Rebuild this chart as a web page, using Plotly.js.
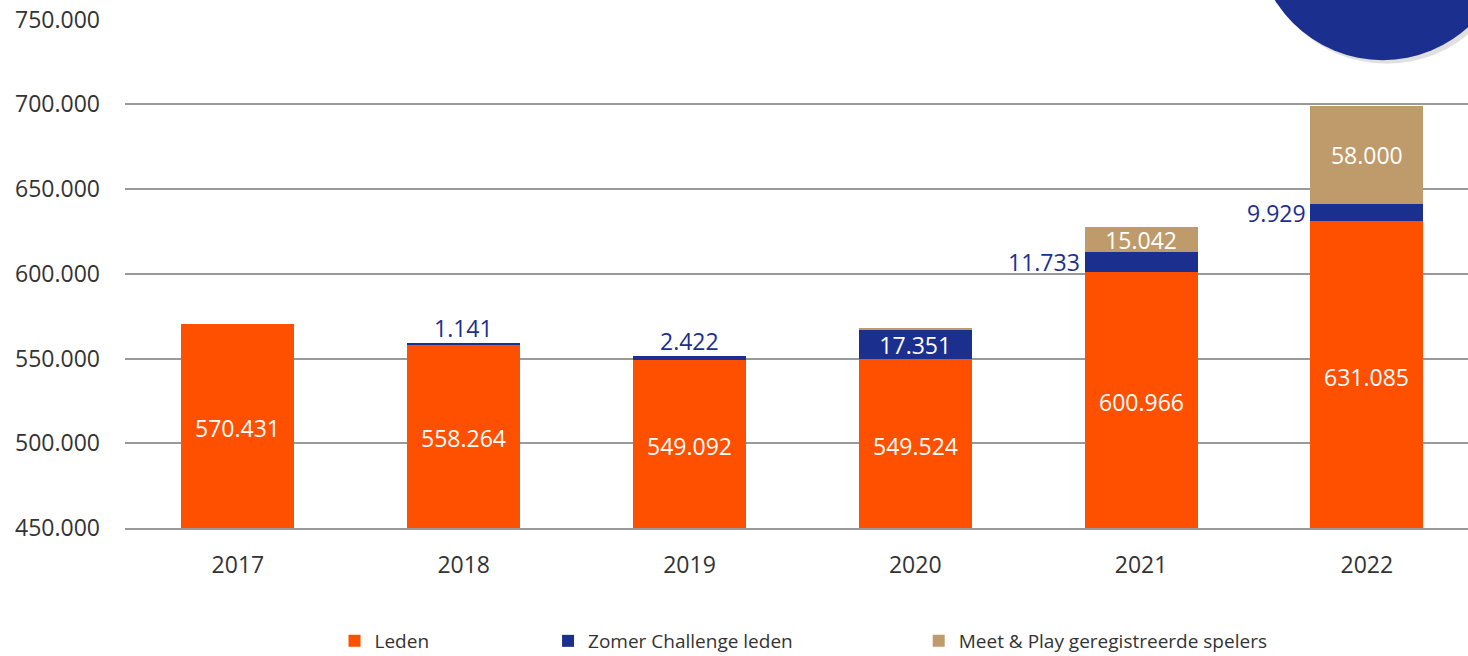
<!DOCTYPE html>
<html>
<head>
<meta charset="utf-8">
<script src="https://cdn.plot.ly/plotly-3.0.1.min.js"></script>
<style>html,body{margin:0;padding:0;background:#fff;}#chart{width:1468px;height:656px;}</style>
</head>
<body>
<div id="chart"></div>
<script>
var years = ['2017', '2018', '2019', '2020', '2021', '2022'];
var leden = [570431, 558264, 549092, 549524, 600966, 631085];
var zomer = [0, 1141, 2422, 17351, 11733, 9929];
var meetPlay = [0, 0, 0, 1200, 15042, 58000];
var seriesNames = ['Leden', 'Zomer Challenge leden', 'Meet & Play geregistreerde spelers'];
var yTicks = [450000, 500000, 550000, 600000, 650000, 700000, 750000];

var ORANGE = '#FF5000', NAVY = '#1B2F8F', TAN = '#BF9B6B';
var FONT = 'Open Sans, DejaVu Sans, sans-serif';
var Y_MIN = 450000, Y_MAX = 750400;
var LABEL_SIZE = 23;

function fmt(v) { return v.toString().replace(/\B(?=(\d{3})+(?!\d))/g, '.'); }

var traces = [
  {
    type: 'bar', name: seriesNames[0], x: years, y: leden,
    marker: {color: ORANGE}, hoverinfo: 'skip', legend: 'legend'
  },
  {
    type: 'bar', name: seriesNames[1], x: years, y: zomer,
    marker: {color: NAVY},
    text: zomer.map(function (v) { return v >= 15000 ? fmt(v) : ''; }),
    textposition: 'inside', insidetextanchor: 'middle', constraintext: 'none',
    textfont: {color: '#ffffff', size: LABEL_SIZE, family: FONT},
    hoverinfo: 'skip', legend: 'legend2'
  },
  {
    type: 'bar', name: seriesNames[2], x: years, y: meetPlay,
    marker: {color: TAN},
    text: meetPlay.map(function (v) { return v >= 5000 ? fmt(v) : ''; }),
    textposition: 'inside', insidetextanchor: 'middle', constraintext: 'none',
    textfont: {color: '#ffffff', size: LABEL_SIZE, family: FONT},
    hoverinfo: 'skip', legend: 'legend3'
  }
];

var annotations = [];
for (var i = 0; i < years.length; i++) {
  // Leden label centred in the visible part of the bar
  annotations.push({
    x: i, y: (Y_MIN + leden[i]) / 2, xref: 'x', yref: 'y',
    text: fmt(leden[i]), showarrow: false, xanchor: 'center', yanchor: 'middle',
    yshift: -2, font: {color: '#ffffff', size: LABEL_SIZE, family: FONT}
  });
  // Small Zomer Challenge segments get outside labels
  var z = zomer[i];
  if (z <= 0 || z >= 15000) continue;
  if (meetPlay[i] > 0) {
    annotations.push({
      x: i, y: leden[i] + z / 2, xref: 'x', yref: 'y',
      text: fmt(z), showarrow: false, xanchor: 'right', yanchor: 'middle',
      xshift: -59, font: {color: NAVY, size: LABEL_SIZE, family: FONT}
    });
  } else {
    annotations.push({
      x: i, y: leden[i] + z, xref: 'x', yref: 'y',
      text: fmt(z), showarrow: false, xanchor: 'center', yanchor: 'bottom',
      yshift: -3, font: {color: NAVY, size: LABEL_SIZE, family: FONT}
    });
  }
}

var legendFont = {family: FONT, size: 19, color: '#333333'};
function legendAt(x) {
  return {orientation: 'h', x: x, xanchor: 'left', y: -0.222, yanchor: 'middle',
          font: legendFont, bgcolor: 'rgba(0,0,0,0)', itemclick: false, itemdoubleclick: false};
}

var layout = {
  width: 1468, height: 656,
  margin: {l: 125, r: 0, t: 19, b: 128, autoexpand: false},
  paper_bgcolor: '#ffffff', plot_bgcolor: '#ffffff',
  barmode: 'stack', bargap: 0.5,
  separators: ',.',
  font: {family: FONT, color: '#333333'},
  xaxis: {
    type: 'category', range: [-0.5, 5.448], autorange: false, automargin: false,
    showgrid: false, zeroline: false, showline: true,
    linecolor: '#999999', linewidth: 2, ticks: '',
    tickfont: {size: 23, color: '#333333', family: FONT},
    ticklabelstandoff: 15, fixedrange: true
  },
  yaxis: {
    range: [Y_MIN, Y_MAX], autorange: false, automargin: false, tickvals: yTicks, tickformat: ',',
    showgrid: true, gridcolor: '#999999', gridwidth: 2, zeroline: false,
    showline: false, ticks: '', tickfont: {size: 23, color: '#333333', family: FONT},
    ticklabelstandoff: 24, fixedrange: true
  },
  showlegend: true,
  legend: legendAt(0.156),
  legend2: legendAt(0.315),
  legend3: legendAt(0.591),
  annotations: annotations,
  shapes: [
    {type: 'circle', xref: 'paper', yref: 'paper', x0: 0.845, x1: 1.034, y0: 0.912, y1: 1.411,
     fillcolor: 'rgba(0,0,0,0.12)', line: {width: 0}, layer: 'above'},
    {type: 'circle', xref: 'paper', yref: 'paper', x0: 0.842, x1: 1.031, y0: 0.919, y1: 1.418,
     fillcolor: NAVY, line: {width: 0}, layer: 'above'}
  ]
};

Plotly.newPlot('chart', traces, layout, {displayModeBar: false, staticPlot: true});
</script>
</body>
</html>
